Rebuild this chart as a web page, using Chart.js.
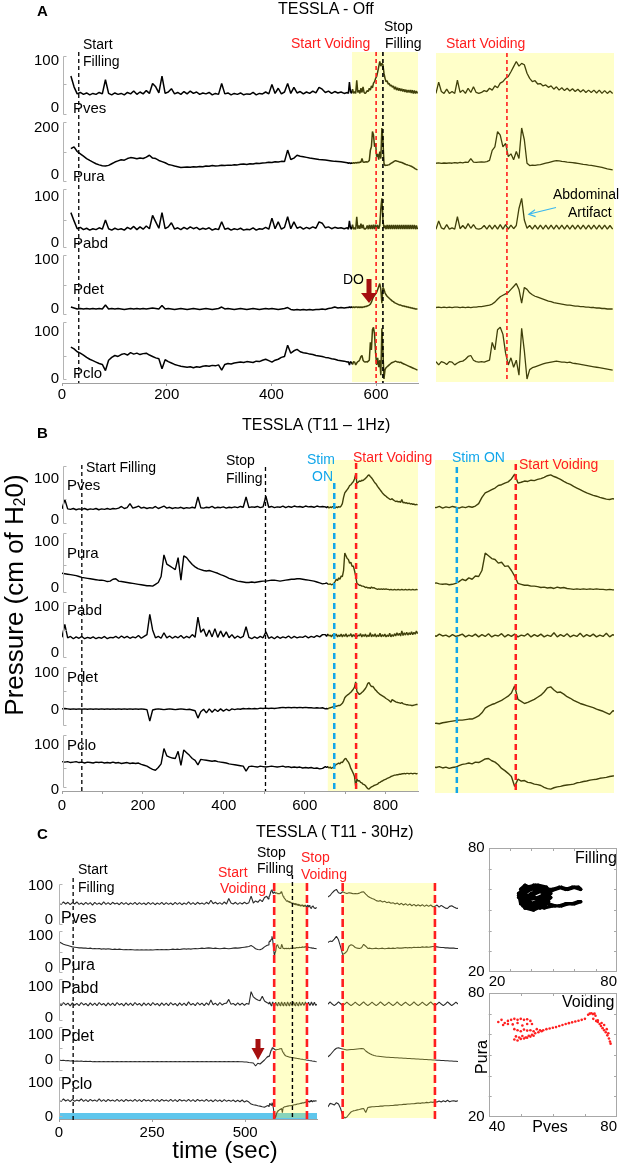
<!DOCTYPE html>
<html><head><meta charset="utf-8">
<script src="https://cdn.jsdelivr.net/npm/chart.js@4.4.1/dist/chart.umd.min.js"></script>
<style>
html,body{margin:0;padding:0;background:#fff;}
#wrap{position:relative;width:624px;height:1167px;overflow:hidden;font-family:"Liberation Sans",Arial,Helvetica,sans-serif;}
canvas{position:absolute;}
.t{position:absolute;white-space:nowrap;line-height:1;transform:translateY(-50%);z-index:5;color:#000;}
</style></head>
<body><div id="wrap">
<svg width="624" height="1167" style="position:absolute;left:0;top:0;z-index:4">
  <polygon points="366.5,279 371.5,279 371.5,293 377,293 369,303 361,293 366.5,293" fill="#a50f0f"/>
  <polygon points="255.5,1039 260.5,1039 260.5,1048 264.5,1048 258,1060 251.5,1048 255.5,1048" fill="#a50f0f"/>
  <line x1="556" y1="207.5" x2="529.5" y2="214" stroke="#3ab6ee" stroke-width="1.2"/>
  <polyline points="535,209.8 528.8,214.2 535.6,216.6" fill="none" stroke="#3ab6ee" stroke-width="1.2"/>
</svg>
</div>
<script>
// ===================== DATA =====================
const traceNames = ['Pves', 'Pura', 'Pabd', 'Pdet', 'Pclo'];

// Panel A (TESSLA - Off): filling part sampled every 6 s from 17 s, voiding part every 2 s from 547 s
const aFillT0 = 17, aFillDt = 6, aVoidT0 = 547, aVoidDt = 2;
const aPvesFill = [68,45,30,33,29,32,28,31,29,33, 30,60,31,28,32,29,31,28,33,30, 36,29,34,30,37,31,52,45,32,68, 31,34,41,30,33,29,35,30,36,31, 34,29,32,30,33,28,31,29,52,30, 32,28,31,29,32,28,30,29,33,28, 31,30,34,30,50,31,42,30,34,52, 31,44,32,35,30,34,31,36,32,44, 40,33,36,31,35,32,34,31,33];
const aPuraFill = [112,120,100,90,80,70,62,55,48,43, 39,38,41,48,55,60,65,63,70,74, 72,69,72,70,76,84,72,70,62,57, 52,45,42,38,35,32,33,34,33,35, 34,36,35,38,37,40,38,39,41,40, 42,41,44,43,46,47,45,48,47,50, 49,51,52,54,53,56,55,58,57,106, 66,72,84,80,78,75,72,70,68,66, 65,64,62,60,58,57,56,54,52];
const aPabdFill = [66,48,31,34,29,32,28,31,29,33, 30,50,31,28,32,29,31,28,34,30, 36,29,35,30,37,31,60,46,32,66, 31,35,44,30,33,29,34,30,35,31, 34,29,32,30,33,28,31,29,46,30, 32,28,31,29,32,28,30,29,33,28, 31,30,34,30,54,31,46,30,34,57, 31,46,32,35,30,34,31,35,32,46, 43,33,35,31,34,32,33,31,33];
const aPdetFill = [4,2,0,1,0,1,0,1,0,1, 0,8,0,1,0,1,0,-1,0,1, 0,1,0,1,0,1,2,1,0,7, 0,1,0,-1,0,1,0,-1,0,1, 0,-1,0,1,0,-1,0,1,4,0, 1,0,-1,0,1,0,-1,0,1,0, -1,0,1,0,1,0,-1,0,1,3, -1,-2,-1,-2,-1,-2,-1,-2,-1,-1, 0,-1,1,2,4,2,3,2,3];
const aPcloFill = [68,64,58,55,51,46,42,39,36,33, 31,18,40,46,50,48,52,54,51,56, 53,55,52,54,55,51,48,45,43,22, 41,37,34,31,29,27,26,25,26,24, 26,25,27,28,27,29,28,30,19,31, 33,32,34,35,36,35,37,36,35,38, 37,40,42,39,36,40,42,46,48,72, 55,60,63,58,56,55,53,52,50,49, 48,46,45,43,42,40,39,38,36];
const aPvesVoid = [31,55,35,31,40,31,35,31,59,33, 38,31,42,33,45,33,31,33,37,35, 42,38,47,43,53,56,63,67,77,88, 99,89,95,92,74,63,56,58,51,52, 47,49,44,47,40,45,38,43,37,42, 36,41,35,40,34,39,33,38,33,38, 32,38,31,37,31,36,31];
const aPuraVoid = [50,52,49,51,50,52,50,53,51,54, 52,55,54,70,55,54,55,56,55,57, 62,105,120,185,170,120,135,78,90,65, 100,70,200,150,50,40,42,41,43,44, 47,50,53,56,59,61,60,58,57,55, 54,53,51,49,47,45,44,42,41,39, 37,35,32,29,26,24,22];
const aPabdVoid = [30,48,33,30,40,30,33,30,57,31, 38,31,42,32,40,31,30,32,38,30, 39,30,39,30,40,30,40,30,39,31, 38,75,97,50,32,38,30,39,30,39, 30,39,30,39,30,39,30,39,30,39, 30,39,30,39,30,39,30,39,30,39, 30,39,30,39,30,38,30];
const aPdetVoid = [3,4,3,4,3,4,3,4,4,3, 4,3,4,3,4,4,5,5,6,7, 8,10,14,20,25,28,31,34,40,46, 52,40,12,44,40,33,29,26,24,22, 20,18,16,15,13,12,11,10,9,8, 8,7,6,6,5,5,4,4,3,3, 2,2,1,1,0,0,0];
const aPcloVoid = [37,30,37,35,31,37,36,30,34,37, 38,42,48,50,40,37,36,37,36,38, 40,78,62,105,110,95,55,30,45,25, 40,8,108,60,0,20,24,26,28,30, 32,34,35,36,37,38,37,36,36,35, 36,34,33,32,31,30,29,28,27,26, 25,24,23,22,21,20,19];
const aXTicks = [0, 200, 400, 600];
const aYTicks = [[0, 100], [0, 200], [0, 100], [0, 100], [0, 100]];

// Panel B (TESSLA T11 - 1Hz): filling every 7 s from 0 s, voiding every 3 s from 651 s
const bFillT0 = 0, bFillDt = 7, bVoidT0 = 651, bVoidDt = 3;
const bPvesFill = [27,50,27,26,28,25,27,26,28,25, 27,26,28,25,27,26,28,26,28,27, 29,33,28,30,40,29,31,34,29,31, 28,30,29,33,28,31,34,29,31,28, 30,29,31,28,30,29,31,29,56,30, 29,31,30,33,29,31,30,32,29,31, 30,32,30,33,31,56,30,32,31,33, 30,32,58,31,33,30,32,31,34,30, 33,31,34,32,33,31,34,32,33,31, 34,32,33];
const bPuraFill = [32,31,30,29,28,27,25,23,22,21, 20,19,18,17,17,16,14,15,19,20, 15,14,13,12,11,10,9,8,7,6, 5,5,4,8,12,25,72,52,48,44, 40,66,17,70,66,58,51,46,42,40, 38,37,38,36,34,32,29,27,24,21, 19,17,15,14,13,12,12,13,12,13, 14,15,15,16,17,17,16,15,16,17, 18,19,19,20,20,19,18,17,16,15, 13,11,9];
const bPabdFill = [34,62,33,36,31,35,32,36,31,34, 32,35,31,34,32,36,31,34,33,36, 32,37,33,36,32,35,33,38,32,36, 40,84,50,33,36,32,44,33,37,32, 36,33,38,32,36,33,40,34,78,45, 52,36,50,35,53,34,48,35,46,33, 40,32,37,33,36,57,34,31,35,32, 36,33,46,32,35,31,36,32,35,33, 37,32,36,33,35,34,37,33,36,34, 38,35,40];
const bPdetFill = [3,4,3,2,3,2,3,2,3,2, 3,2,3,2,3,2,3,2,3,2, 3,2,3,2,3,2,3,2,3,2, 1,-30,0,2,3,2,1,2,3,2, 1,2,3,2,1,2,0,-2,-22,-5, 2,-8,3,-6,2,-4,3,-3,2,-2, 3,1,3,2,4,3,4,3,4,3, 5,4,5,4,5,4,5,6,7,6, 7,6,7,6,7,6,7,6,6,5, 6,5,6];
const bPcloFill = [63,62,63,61,62,63,61,62,60,62, 61,60,62,61,62,60,61,60,62,60, 61,59,60,61,59,60,59,60,57,55, 53,49,46,44,50,58,92,76,73,71, 70,86,55,89,83,77,70,66,56,68, 67,66,65,64,65,63,62,61,60,58, 57,56,55,54,53,42,52,53,52,51, 53,52,51,52,53,52,51,52,53,51, 52,50,51,50,51,49,50,49,50,48, 49,47,48];
const bPvesVoid = [32,30,33,29,32,30,33,31,29,32, 30,33,31,34,40,55,66,70,74,78, 84,86,90,93,100,112,90,92,95,94, 97,96,99,101,104,108,110,106,103,99, 94,90,87,82,78,74,70,66,63,60, 58,55,53,51,50,52,49,47,45,46, 44,45,43,50,42,43,41,42,40,41, 39,40,38,39,37,38,37];
const bPuraVoid = [10,11,9,8,9,7,8,10,14,19, 16,22,19,26,25,38,76,70,64,62, 54,56,47,48,38,26,10,8,6,6, 4,4,3,1,2,0,1,-1,2,0, 1,-1,-2,-3,-2,-3,-2,-3,-2,-3, -2,-3,-3,-4,-3,-4,-4,-3,-4,-4, -3,-4,-4,-3,-4,-4,-3,-4,-4,-3, -4,-4,-3,-4,-4,-3,-4];
const bPabdVoid = [40,36,41,37,39,35,40,36,38,41, 35,39,36,41,35,40,36,42,35,39, 37,42,35,40,36,41,35,39,37,42, 35,40,36,41,35,39,36,44,35,40, 36,42,35,39,36,43,35,40,36,41, 35,39,36,43,35,40,36,42,37,44, 38,43,37,48,38,44,39,45,39,44, 40,46,40,45,41,48,42];
const bPdetVoid = [3,4,3,5,6,7,8,9,10,10, 11,12,12,15,18,24,33,37,40,42, 45,48,52,56,62,76,50,46,42,44, 47,50,54,58,64,72,74,68,63,64, 60,55,52,48,45,42,40,38,36,34, 31,29,27,24,21,28,26,24,22,21, 20,19,18,20,17,16,15,14,14,13, 13,12,12,13,14,15,15];
const bPcloVoid = [52,50,52,49,51,48,50,51,54,57, 58,60,58,62,61,65,69,70,65,62, 56,48,43,37,30,8,24,20,21,17, 16,13,12,10,6,3,2,5,7,8, 10,11,12,13,16,17,19,20,22,23, 24,26,27,28,30,31,32,33,33,34, 34,35,35,36,36,37,36,37,37,36, 37,37,36,37,37,36,37];
const bXTicks = [0, 100, 200, 300, 400, 500, 600, 700, 800];
const bXLabels = [0, 200, 400, 600, 800];
const bYTicks = [[0, 100], [0, 100], [0, 100], [0, 100], [0, 100]];

// Panel C (TESSLA T11 - 30Hz): filling every 6 s from 0 s, voiding every 2 s from 562 s
const cFillT0 = 0, cFillDt = 6, cVoidT0 = 562, cVoidDt = 2;
const cPvesFill = [50,46,53,47,52,45,51,47,53,46, 50,45,52,46,51,44,52,46,50,45, 53,46,51,45,52,47,50,45,52,46, 51,45,50,46,52,45,51,46,50,45, 52,46,51,45,50,46,52,45,51,46, 50,45,52,46,51,45,50,46,53,46, 51,45,52,47,50,46,52,47,58,48, 52,47,51,46,53,47,63,50,47,52, 46,51,47,52,48,51,70,50,56,52, 60,54,66,70];
const cPuraFill = [82,78,74,72,70,68,66,65,64,63, 63,62,62,61,62,60,61,60,61,59, 60,59,60,59,58,59,58,59,58,57, 58,57,58,57,56,57,56,57,56,57, 56,57,56,57,58,57,58,57,58,57, 58,59,58,59,58,59,60,59,60,59, 60,61,60,61,62,61,62,63,62,61, 62,61,60,61,62,61,60,61,62,63, 62,63,64,65,66,67,70,66,60,58, 57,60,66,70];
const cPabdFill = [46,40,50,42,48,39,49,41,47,40, 50,42,47,39,49,41,48,40,50,42, 47,39,49,41,48,40,50,42,47,39, 49,41,48,40,50,42,47,39,49,41, 48,40,50,42,47,39,49,41,48,40, 50,42,47,39,49,41,48,40,52,42, 47,40,50,42,48,40,49,42,58,43, 48,41,50,42,47,48,60,44,47,41, 49,42,48,41,47,44,85,68,62,58, 56,70,55,50];
const cPdetFill = [0,-2,-1,-3,-2,-4,-3,-5,-4,-5, -4,-6,-5,-6,-5,-7,-6,-7,-6,-7, -6,-7,-6,-7,-6,-7,-6,-7,-6,-7, -6,-7,-6,-7,-6,-7,-6,-7,-6,-7, -6,-7,-6,-7,-6,-7,-6,-7,-6,-7, -6,-7,-6,-7,-6,-7,-6,-7,-6,-7, -6,-7,-6,-7,-6,-7,-6,-7,-6,-7, -6,-7,-6,-7,-6,-7,-6,-7,-6,-7, -6,-7,-7,-8,-8,-10,-11,-12,-24,-13, -16,-8,0,10];
const cPcloFill = [50,46,53,47,51,45,52,46,50,47, 53,46,51,45,52,47,50,46,53,46, 51,45,52,47,50,46,52,46,51,45, 52,47,50,46,52,46,51,45,52,47, 50,46,52,46,51,45,52,47,50,46, 52,46,51,45,52,47,50,46,52,46, 51,45,52,47,50,46,52,46,50,45, 51,46,50,45,51,46,49,46,50,45, 49,45,50,44,48,44,38,36,35,33, 32,30,29,32];
const cPvesVoid = [62,68,72,80,86,90,80,78,83,80, 78,80,79,77,78,77,79,82,83,76, 70,66,63,61,57,55,57,53,55,51, 53,49,51,47,50,45,49,44,48,43, 47,42,46,41,45,41,45,40,44,40, 44,39,40,44,38,43,39,35,34,40, 42,38,35,34,37,35];
const cPuraVoid = [72,80,84,83,90,99,88,66,42,46, 52,68,73,70,64,62,61,63,74,68, 61,62,60,61,62,60,61,62,60,61, 62,61,62,61,63,62,62,63,64,63, 64,63,65,64,65,64,66,65,66,65, 66,67,67,66,65,64,64,63,63,62, 62,62,61,61,61,60];
const cPabdVoid = [48,45,52,45,40,45,52,46,40,45, 51,45,40,45,51,45,40,46,52,45, 40,45,51,45,40,45,52,46,40,45, 51,45,40,45,52,45,40,46,51,45, 40,45,52,45,40,45,51,45,40,46, 52,45,40,45,51,45,40,45,52,46, 40,45,51,45,40,45];
const cPdetVoid = [15,13,20,30,40,47,49,46,44,42, 40,41,42,42,43,44,45,46,45,36, 30,25,21,18,16,15,14,13,12,11, 11,10,10,9,9,8,8,7,7,6, 6,5,5,4,4,3,3,2,2,1, 1,0,0,-1,-1,-2,-2,-3,-3,-4, -4,-5,-5,-6,-6,-7];
const cPcloVoid = [34,30,40,38,35,42,38,25,5,-3, 0,8,15,18,19,21,22,24,25,13, 28,29,30,30,31,31,32,32,33,33, 33,34,34,35,35,36,36,37,37,38, 38,39,39,40,41,40,42,41,43,42, 44,43,45,44,47,44,48,45,49,45, 47,48,46,48,47,48];
const cXTicks = [0, 250, 500];
const cYTicks = [[0, 100], [0, 100], [0, 100], [0, 100], [0, 100]];

// Pves vs Pura loops (panel C, right)
const fillPves = [34,38,42,46,48,44,40,36,35,39, 43,47,49,45,41,37,36,40,44,48, 47,43,39,35,34,38,42,46,49,45, 41,37,36,40,44,48,46,42,38,35, 37,41,45,48,50,53,56,59,62,63, 60,57,54,51,47,43,39,36,38,42, 46,50,53,56,59,62,63,60,57,54, 51,48,44,40,37, 35,37,39,41,43,45,47,46,44,42, 40,38,36,35,37,39,41,43,45,47, 48,46,44,42,40,38,36,34,36,38];
const fillPura = [56,59,61,60,57,55,53,52,57,60, 62,61,58,54,52,51,55,58,60,59, 56,53,51,53,58,61,62,59,56,52, 50,51,54,57,59,57,54,52,55,57, 60,61,61,60,60,61,60,61,61,60, 61,60,61,60,58,56,55,54,53,52, 51,52,52,53,53,54,54,53,53,52, 52,53,55,57,56, 58,60,61,60,61,60,59,55,53,52, 53,54,55,60,62,61,62,60,61,57, 54,52,51,52,51,52,54,57,59,57];
const voidPves = [43,44,45,46,47,48,49,50,51,52,53,53.5,52,50.5,49,47.5,46,44.5, 48,49,50,51,52,53,54,55,56, 48.5,49.5,50.5,51.5,52.5,53.5,54.5,55.5,56.5, 48,49,50,51,52,53,54, 57,58,59,60,61,62,63,64,65,66,67,68,69,70, 71,71.5,72,72.5,73,73.3,72.6,73.5,74,74.6,75,75.5,76,76.5,77,77.5,77.8,78, 74,75.2,76,76.8,77.3];
const voidPura = [66,67,65.5,66.5,67,67.5,67,67.5,67,67.3,66.5,65,65,64.3,65.5,64.8,65,64.5, 62.5,62,61.5,62.3,61.8,62,61.5,62.5,62, 59,58.5,59.2,58.5,59.3,59.8,60.5,61,61.5, 57.5,57,57.8,58,58.4,58.9,59.3, 62,62.5,62.8,63.2,63.5,64,64.5,65,65.4,65.8,66.2,66.6,67,67.5, 69.5,70,70.2,69.8,70,69,67.5,66.5,66,65,64,63,62,61,59.5,58,56.5,55.5, 66.8,65.5,64.5,62.5,60.5];

// ===================== RENDERING =====================
const FONT = '"Liberation Sans", Arial, Helvetica, sans-serif';
const RED = '#ff1e1e', BLUE = '#12a6ea', YEL = 'rgba(255,255,40,0.25)';
const wrap = document.getElementById('wrap');

function series(t0, dt, vals) { return vals.map((v, i) => ({x: t0 + i * dt, y: v})); }

const decoPlugin = {
  id: 'deco',
  beforeDatasetsDraw(chart, args, o) {
    const ctx = chart.ctx, ca = chart.chartArea;
    if (o.blueBar) {
      ctx.save(); ctx.fillStyle = o.blueBar.color;
      ctx.fillRect(ca.left, ca.bottom - o.blueBar.h, ca.right - ca.left, o.blueBar.h);
      ctx.restore();
    }
  },
  afterDatasetsDraw(chart, args, o) {
    const ctx = chart.ctx, ca = chart.chartArea, xs = chart.scales.x;
    ctx.save();
    if (o.yellow) {
      const y = o.yellow;
      const x0 = Math.max(ca.left, xs.getPixelForValue(y.from));
      const x1 = Math.min(ca.right, xs.getPixelForValue(y.to));
      ctx.fillStyle = YEL;
      ctx.fillRect(x0, ca.top + y.dyTop, x1 - x0, (ca.bottom + y.dyBot) - (ca.top + y.dyTop));
    }
    if (o.brackets) {
      const b = o.brackets;
      ctx.strokeStyle = '#b4b4b4'; ctx.lineWidth = 1;
      o.yIds.forEach((id, k) => {
        const sc = chart.scales[id];
        const top = Math.round(sc.top + b.top) + 0.5, bot = Math.round(sc.bottom - b.bot) + 0.5;
        const x = Math.round(ca.left + b.dx) + 0.5;
        ctx.beginPath();
        ctx.moveTo(x + 3, top); ctx.lineTo(x, top); ctx.lineTo(x, bot); ctx.lineTo(x + 3, bot);
        (b.marks[k] || []).forEach(v => {
          const yy = Math.round(sc.getPixelForValue(v)) + 0.5;
          ctx.moveTo(x, yy); ctx.lineTo(x + 3, yy);
        });
        ctx.stroke();
      });
    }
    (o.lines || []).forEach(l => {
      const x = xs.getPixelForValue(l.t);
      ctx.strokeStyle = l.color; ctx.lineWidth = l.w; ctx.setLineDash(l.dash);
      ctx.beginPath(); ctx.moveTo(x, ca.top + l.dyTop); ctx.lineTo(x, ca.bottom + l.dyBot); ctx.stroke();
    });
    ctx.restore();
  }
};

const boxPlugin = {
  id: 'box',
  afterDraw(chart, args, o) {
    const ctx = chart.ctx, ca = chart.chartArea, xs = chart.scales.x, ys = chart.scales.y;
    ctx.save();
    ctx.strokeStyle = '#a8a8a8'; ctx.lineWidth = 1;
    ctx.strokeRect(Math.round(ca.left) + 0.5, Math.round(ca.top) + 0.5, Math.round(ca.right - ca.left) - 1, Math.round(ca.bottom - ca.top) - 1);
    ctx.beginPath();
    for (let v = xs.min + 10; v < xs.max; v += 10) {
      const x = Math.round(xs.getPixelForValue(v)) + 0.5;
      ctx.moveTo(x, ca.bottom); ctx.lineTo(x, ca.bottom - 3);
      ctx.moveTo(x, ca.top); ctx.lineTo(x, ca.top + 3);
    }
    for (let v = ys.min + 10; v < ys.max; v += 10) {
      const y = Math.round(ys.getPixelForValue(v)) + 0.5;
      ctx.moveTo(ca.left, y); ctx.lineTo(ca.left + 3, y);
      ctx.moveTo(ca.right, y); ctx.lineTo(ca.right - 3, y);
    }
    ctx.stroke();
    ctx.restore();
  }
};

function place(chart, L, T, R, B) {
  let ca = chart.chartArea;
  const ew = chart.width - (ca.right - ca.left), eh = chart.height - (ca.bottom - ca.top);
  chart.resize(Math.round(R - L + ew), Math.round(B - T + eh));
  ca = chart.chartArea;
  chart.canvas.style.left = (L - ca.left) + 'px';
  chart.canvas.style.top = (T - ca.top) + 'px';
}

function newCanvas(w, h) {
  const cv = document.createElement('canvas');
  cv.width = w; cv.height = h; cv.style.left = '0px'; cv.style.top = '0px';
  wrap.appendChild(cv);
  return cv;
}

function makeStack(c) {
  const cv = newCanvas(c.R - c.L + 100, c.B - c.T + 80);
  const yIds = c.bands.map((b, k) => 'y' + k);
  const scales = {
    x: {
      type: 'linear', position: 'bottom', min: c.xmin, max: c.xmax, display: c.showX,
      afterBuildTicks: s => { s.ticks = (c.xTicks || []).map(v => ({value: v})); },
      ticks: {display: true, autoSkip: false, maxRotation: 0, padding: c.xPad || 0, color: '#000',
              font: {size: 15, family: FONT},
              callback: v => (c.xLabels || []).includes(v) ? String(v) : ''},
      grid: {display: true, drawOnChartArea: false, drawTicks: true, tickLength: 3, color: '#a0a0a0'},
      border: {display: true, color: '#a0a0a0', width: 1}
    }
  };
  c.bands.forEach((b, k) => {
    scales[yIds[k]] = {
      type: 'linear', position: 'left', stack: 'tr', stackWeight: b.weight, weight: 10 - k,
      min: b.min, max: b.max,
      afterBuildTicks: s => { s.ticks = b.ticks.map(v => ({value: v})); },
      afterFit: s => { s.width = c.yWidth; },
      ticks: {display: c.showY, autoSkip: false, padding: c.yPad || 3, color: '#000', font: {size: 15, family: FONT}},
      grid: {display: false, drawTicks: false}, border: {display: false}
    };
  });
  const datasets = c.traces.map((pts, k) => ({
    label: traceNames[k], data: pts, yAxisID: yIds[k], xAxisID: 'x',
    borderColor: c.lineColor, borderWidth: c.lineWidth, pointRadius: 0, tension: 0,
    fill: false, borderJoinStyle: 'bevel'
  }));
  const chart = new Chart(cv, {
    type: 'line', data: {datasets},
    options: {
      responsive: false, maintainAspectRatio: false, animation: false, devicePixelRatio: 1, events: [],
      layout: {padding: {top: 14, right: 18, bottom: 4, left: 4}},
      plugins: {legend: {display: false}, tooltip: {enabled: false}, deco: Object.assign({}, c.deco, {yIds})},
      scales
    },
    plugins: [decoPlugin]
  });
  place(chart, c.L, c.T, c.R, c.B);
  return chart;
}

function makeScatter(c) {
  const cv = newCanvas(c.R - c.L + 100, c.B - c.T + 80);
  const chart = new Chart(cv, {
    type: 'scatter',
    data: {datasets: [{
      data: c.xs.map((x, i) => ({x, y: c.ys[i]})), showLine: c.showLine,
      borderColor: c.color, backgroundColor: c.color, borderWidth: c.lw,
      pointRadius: c.r, pointBorderWidth: 0, borderJoinStyle: 'round'
    }]},
    options: {
      responsive: false, maintainAspectRatio: false, animation: false, devicePixelRatio: 1, events: [],
      layout: {padding: {top: 14, right: 14, bottom: 4, left: 4}},
      plugins: {legend: {display: false}, tooltip: {enabled: false}},
      scales: {
        x: {type: 'linear', min: c.xmin, max: c.xmax,
            afterBuildTicks: s => { s.ticks = [c.xmin, c.xmax].map(v => ({value: v})); },
            ticks: {align: 'inner', padding: 1, color: '#000', font: {size: 15, family: FONT}},
            grid: {display: false, drawTicks: false}, border: {display: false}},
        y: {type: 'linear', min: c.ymin, max: c.ymax,
            afterBuildTicks: s => { s.ticks = [c.ymin, c.ymax].map(v => ({value: v})); },
            ticks: {padding: 4, color: '#000', font: {size: 15, family: FONT}},
            grid: {display: false, drawTicks: false}, border: {display: false}}
      }
    },
    plugins: [boxPlugin]
  });
  place(chart, c.L, c.T, c.R, c.B);
  return chart;
}

// ---------- Panel A ----------
const aBands = [
  {min: -21.3, max: 119.1, weight: 66, ticks: aYTicks[0]},
  {min: -42.6, max: 242.6, weight: 67, ticks: aYTicks[1]},
  {min: -17.4, max: 126.0, weight: 66, ticks: aYTicks[2]},
  {min: -18.4, max: 118.4, weight: 67, ticks: aYTicks[3]},
  {min: -8.5, max: 129.8, weight: 65, ticks: aYTicks[4]}
];
const aFill = [aPvesFill, aPuraFill, aPabdFill, aPdetFill, aPcloFill];
const aVoid = [aPvesVoid, aPuraVoid, aPabdVoid, aPdetVoid, aPcloVoid];
makeStack({
  L: 62, T: 52, R: 418, B: 383, xmin: 0, xmax: 680, showX: true, xTicks: aXTicks, xLabels: aXTicks, xPad: 0,
  showY: true, yWidth: 40, yPad: 3, bands: aBands, lineColor: '#000', lineWidth: 1.5,
  traces: aFill.map((f, k) => series(aFillT0, aFillDt, f).concat(series(aVoidT0, aVoidDt, aVoid[k]))),
  deco: {
    yellow: {from: 554, to: 680, dyTop: 0, dyBot: -1},
    brackets: {top: 4, bot: 4, dx: 1, marks: [[50], [100], [50], [50], [50]]},
    lines: [
      {t: 32, color: '#000', w: 1.3, dash: [4, 3], dyTop: 0, dyBot: 0},
      {t: 600, color: RED, w: 1.6, dash: [4, 3], dyTop: 0, dyBot: 0},
      {t: 613, color: '#000', w: 1.6, dash: [4, 3], dyTop: 0, dyBot: 0}
    ]
  }
});
makeStack({
  L: 436, T: 52, R: 614, B: 383, xmin: 547, xmax: 680, showX: false, xTicks: [], xLabels: [],
  showY: false, yWidth: 0, bands: aBands, lineColor: '#000', lineWidth: 1.3,
  traces: aVoid.map(v => series(aVoidT0, aVoidDt, v)),
  deco: {
    yellow: {from: 547, to: 680, dyTop: 1, dyBot: -1},
    lines: [{t: 600, color: RED, w: 1.6, dash: [4, 3], dyTop: 1, dyBot: -1}]
  }
});

// ---------- Panel B ----------
const bBands = [
  {min: -17.1, max: 146.3, weight: 67, ticks: bYTicks[0]},
  {min: -17.4, max: 132.6, weight: 69, ticks: bYTicks[1]},
  {min: -17.4, max: 123.9, weight: 65, ticks: bYTicks[2]},
  {min: -51.4, max: 132.4, weight: 68, ticks: bYTicks[3]},
  {min: -2.2, max: 135.6, weight: 62, ticks: bYTicks[4]}
];
const bBandsRight = bBands.map((b, k) => k === 3 ? Object.assign({}, b, {min: -7.1, max: 123.7}) : b);
const bFill = [bPvesFill, bPuraFill, bPabdFill, bPdetFill, bPcloFill];
const bVoid = [bPvesVoid, bPuraVoid, bPabdVoid, bPdetVoid, bPcloVoid];
makeStack({
  L: 62, T: 460, R: 418, B: 791, xmin: 0, xmax: 880, showX: true, xTicks: bXTicks, xLabels: bXLabels, xPad: 3,
  showY: true, yWidth: 40, yPad: 3, bands: bBands, lineColor: '#000', lineWidth: 1.4,
  traces: bFill.map((f, k) => series(bFillT0, bFillDt, f).concat(series(bVoidT0, bVoidDt, bVoid[k]))),
  deco: {
    yellow: {from: 657, to: 880, dyTop: 0, dyBot: 0},
    brackets: {top: 6, bot: 4, dx: 1, marks: [[50], [50], [50], [50], [50]]},
    lines: [
      {t: 49, color: '#000', w: 1.3, dash: [4, 3], dyTop: 5, dyBot: 0},
      {t: 503, color: '#000', w: 1.3, dash: [4, 3], dyTop: 7, dyBot: 0},
      {t: 673, color: BLUE, w: 2.5, dash: [6, 4], dyTop: 23, dyBot: 0},
      {t: 727, color: RED, w: 2.5, dash: [6, 4], dyTop: 3, dyBot: 0}
    ]
  }
});
makeStack({
  L: 435, T: 460, R: 614, B: 791, xmin: 653, xmax: 817, showX: false, xTicks: [], xLabels: [],
  showY: false, yWidth: 0, bands: bBandsRight, lineColor: '#000', lineWidth: 1.4,
  traces: bVoid.map(v => series(bVoidT0, bVoidDt, v)),
  deco: {
    yellow: {from: 653, to: 817, dyTop: 0, dyBot: 2},
    lines: [
      {t: 673, color: BLUE, w: 2.5, dash: [6, 4], dyTop: 7, dyBot: 2},
      {t: 727, color: RED, w: 2.5, dash: [6, 4], dyTop: 4, dyBot: 2}
    ]
  }
});

// ---------- Panel C ----------
const cBands = [
  {min: -20.6, max: 117.6, weight: 47, ticks: cYTicks[0]},
  {min: -21.9, max: 128.1, weight: 48, ticks: cYTicks[1]},
  {min: -16.1, max: 138.7, weight: 48, ticks: cYTicks[2]},
  {min: -52.0, max: 148.0, weight: 50, ticks: cYTicks[3]},
  {min: -5.9, max: 129.4, weight: 46, ticks: cYTicks[4]}
];
const cFill = [cPvesFill, cPuraFill, cPabdFill, cPdetFill, cPcloFill];
const cVoid = [cPvesVoid, cPuraVoid, cPabdVoid, cPdetVoid, cPcloVoid];
makeStack({
  L: 59, T: 880, R: 317, B: 1119, xmin: 0, xmax: 693, showX: true, xTicks: cXTicks, xLabels: cXTicks, xPad: 2,
  showY: true, yWidth: 40, yPad: 6, bands: cBands, lineColor: '#2a2a2a', lineWidth: 1.1,
  traces: cFill.map((f, k) => series(cFillT0, cFillDt, f).concat(series(cVoidT0, cVoidDt, cVoid[k]))),
  deco: {
    blueBar: {color: '#5fc6ec', h: 6},
    yellow: {from: 581, to: 663, dyTop: 3, dyBot: -1},
    brackets: {top: 4, bot: 3, dx: 0, marks: [[50], [50], [50], [50], [50]]},
    lines: [
      {t: 38, color: '#000', w: 1.3, dash: [4, 3], dyTop: -2, dyBot: 1},
      {t: 578, color: RED, w: 2.6, dash: [8, 4], dyTop: 3, dyBot: 3},
      {t: 627, color: '#000', w: 1.4, dash: [4, 3], dyTop: -5, dyBot: 0},
      {t: 666, color: RED, w: 2.6, dash: [8, 4], dyTop: 3, dyBot: 3}
    ]
  }
});
makeStack({
  L: 328, T: 880, R: 458, B: 1119, xmin: 564, xmax: 688, showX: false, xTicks: [], xLabels: [],
  showY: false, yWidth: 0, bands: cBands, lineColor: '#2a2a2a', lineWidth: 1.1,
  traces: cVoid.map(v => series(cVoidT0, cVoidDt, v)),
  deco: {
    yellow: {from: 578, to: 666, dyTop: 3, dyBot: -1},
    lines: [
      {t: 578, color: RED, w: 2.6, dash: [8, 4], dyTop: 3, dyBot: 3},
      {t: 666, color: RED, w: 2.6, dash: [8, 4], dyTop: 3, dyBot: 3}
    ]
  }
});
makeScatter({L: 489, T: 848, R: 617, B: 972, xmin: 20, xmax: 80, ymin: 20, ymax: 80,
  xs: fillPves, ys: fillPura, color: '#000', showLine: true, lw: 3.4, r: 1.8});
makeScatter({L: 489, T: 993, R: 617, B: 1117, xmin: 40, xmax: 80, ymin: 20, ymax: 80,
  xs: voidPves, ys: voidPura, color: '#ff2020', showLine: false, lw: 1, r: 1.3});

// ---------- Text ----------
function txt(s, x, cy, size, opt) {
  opt = opt || {};
  const d = document.createElement('div');
  d.className = 't';
  d.innerHTML = s;
  d.style.left = x + 'px'; d.style.top = cy + 'px'; d.style.fontSize = size + 'px';
  if (opt.color) d.style.color = opt.color;
  if (opt.bold) d.style.fontWeight = 'bold';
  if (opt.center) d.style.transform = 'translate(-50%,-50%)';
  if (opt.rot) d.style.transform = 'translate(-50%,-50%) rotate(-90deg)';
  wrap.appendChild(d);
}
// Panel A
txt('A', 37, 10, 15, {bold: true});
txt('TESSLA - Off', 278, 9, 16);
txt('Start', 83, 44, 14); txt('Filling', 83, 61, 14);
txt('Start Voiding', 291, 43, 14, {color: RED});
txt('Stop', 384, 26, 14); txt('Filling', 385, 43, 14);
txt('Start Voiding', 446, 43, 14, {color: RED});
txt('Abdominal', 553, 194, 14); txt('Artifact', 568, 212, 14);
txt('DO', 343, 279, 14);
[107, 175, 242, 288, 372].forEach((y, k) => txt(traceNames[k], 73, y, 15));
// Panel B
txt('B', 37, 432, 15, {bold: true});
txt('TESSLA (T11 \u2013 1Hz)', 242, 425, 16);
txt('Start Filling', 86, 467, 14);
txt('Stop', 226, 460, 14); txt('Filling', 226, 478, 14);
txt('Stim', 307, 459, 14, {color: BLUE}); txt('ON', 312, 476, 14, {color: BLUE});
txt('Start Voiding', 353, 457, 14, {color: RED});
txt('Stim ON', 452, 457, 14, {color: BLUE});
txt('Start Voiding', 519, 464, 14, {color: RED});
[484, 552, 609, 676, 744].forEach((y, k) => txt(traceNames[k], 67, y, 15));
txt('Pressure (cm of H<sub style="font-size:0.6em;vertical-align:-0.15em">2</sub>0)', 14, 595, 26, {rot: true});
// Panel C
txt('C', 37, 833, 15, {bold: true});
txt('TESSLA ( T11 - 30Hz)', 256, 832, 16);
txt('Start', 78, 869, 14); txt('Filling', 78, 887, 14);
txt('Start', 218, 872, 14, {color: RED}); txt('Voiding', 220, 888, 14, {color: RED});
txt('Stop', 257, 852, 14); txt('Filling', 257, 868, 14);
txt('Stop', 301, 857, 14, {color: RED}); txt('Voiding', 301, 874, 14, {color: RED});
[918, 965, 988, 1036, 1084].forEach((y, k) => txt(traceNames[k], 61, y, 16));
txt('time (sec)', 225, 1150, 24, {center: true});
txt('Filling', 575, 858, 16);
txt('Voiding', 562, 1002, 16);
txt('Pves', 550, 1127, 16, {center: true});
txt('Pura', 482, 1057, 16, {rot: true});
</script></body></html>
